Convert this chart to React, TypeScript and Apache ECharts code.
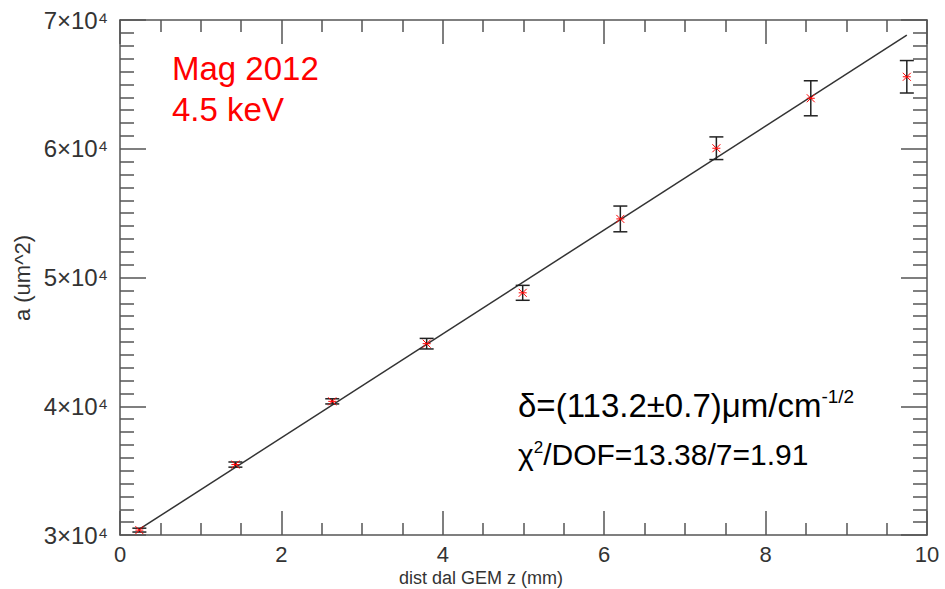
import React, { useEffect, useRef } from "react";
import * as echarts from "echarts";

const zValues = [0.24, 1.43, 2.63, 3.8, 4.99, 6.2, 7.39, 8.56, 9.75];
const aValues = [30380, 35470, 40380, 44860, 48810, 54550, 60040, 63920, 65590];
const aErrors = [150, 200, 200, 410, 580, 1000, 880, 1360, 1260];
const fitZ = [0.24, 9.75];
const fitA = [30450, 68830];
const xTickLabels = ["0", "2", "4", "6", "8", "10"];
const yTickLabels = ["3×10⁴", "4×10⁴", "5×10⁴", "6×10⁴", "7×10⁴"];

const AXIS_COLOR = "#555";
const FONT = "Liberation Sans, Arial, Helvetica, sans-serif";

export default function App() {
  const ref = useRef<HTMLDivElement>(null);
  useEffect(() => {
    if (!ref.current) return;
    const chart = echarts.init(ref.current, undefined, { renderer: "svg" });
    const data = zValues.map((z, i) => [z, aValues[i], aErrors[i]]);
    const xBase = (show: boolean, pos: "bottom" | "top") => ({
      type: "value" as const,
      position: pos,
      min: 0,
      max: 10,
      interval: 2,
      axisLine: { show: true, onZero: false, lineStyle: { color: AXIS_COLOR, width: 1.5 } },
      axisTick: { show: true, inside: true, length: 24, lineStyle: { color: AXIS_COLOR, width: 1.5 } },
      minorTick: { show: true, splitNumber: 4, length: 12, lineStyle: { color: AXIS_COLOR, width: 1.5 } },
      splitLine: { show: false },
      axisLabel: {
        show,
        margin: 8,
        fontSize: 22,
        color: "#333",
        fontFamily: FONT,
        formatter: (v: number) => xTickLabels[Math.round(v / 2)] ?? String(v),
      },
    });
    const yBase = (show: boolean, pos: "left" | "right") => ({
      type: "value" as const,
      position: pos,
      min: 30000,
      max: 70000,
      interval: 10000,
      axisLine: { show: true, onZero: false, lineStyle: { color: AXIS_COLOR, width: 1.5 } },
      axisTick: { show: true, inside: true, length: 26, lineStyle: { color: AXIS_COLOR, width: 1.5 } },
      minorTick: { show: true, splitNumber: 10, length: 14, lineStyle: { color: AXIS_COLOR, width: 1.5 } },
      splitLine: { show: false },
      axisLabel: {
        show,
        margin: 12,
        fontSize: 24,
        color: "#333",
        fontFamily: FONT,
        formatter: (v: number) => yTickLabels[Math.round((v - 30000) / 10000)] ?? String(v),
      },
    });

    chart.setOption({
      animation: false,
      backgroundColor: "#fff",
      grid: { left: 120, right: 18, top: 20, bottom: 54, containLabel: false },
      xAxis: [xBase(true, "bottom"), xBase(false, "top")],
      yAxis: [yBase(true, "left"), yBase(false, "right")],
      series: [
        {
          type: "line",
          xAxisIndex: 0,
          yAxisIndex: 0,
          data: fitZ.map((z, i) => [z, fitA[i]]),
          showSymbol: false,
          lineStyle: { color: "#333", width: 1.5 },
          z: 2,
        },
        {
          type: "custom",
          xAxisIndex: 0,
          yAxisIndex: 0,
          data,
          z: 3,
          renderItem: (params: any, api: any) => {
            const x = api.value(0);
            const y = api.value(1);
            const e = api.value(2);
            const p = api.coord([x, y]);
            const top = api.coord([x, y + e]);
            const bot = api.coord([x, y - e]);
            const cap = 7;
            const s = 4;
            const black = { stroke: "#222", lineWidth: 1.5 };
            const red = { stroke: "#ff0000", lineWidth: 1 };
            return {
              type: "group",
              children: [
                { type: "line", shape: { x1: p[0], y1: top[1], x2: p[0], y2: bot[1] }, style: black },
                { type: "line", shape: { x1: p[0] - cap, y1: top[1], x2: p[0] + cap, y2: top[1] }, style: black },
                { type: "line", shape: { x1: p[0] - cap, y1: bot[1], x2: p[0] + cap, y2: bot[1] }, style: black },
                { type: "line", shape: { x1: p[0] - s, y1: p[1] - s, x2: p[0] + s, y2: p[1] + s }, style: red },
                { type: "line", shape: { x1: p[0] - s, y1: p[1] + s, x2: p[0] + s, y2: p[1] - s }, style: red },
                { type: "line", shape: { x1: p[0] - s, y1: p[1], x2: p[0] + s, y2: p[1] }, style: red },
              ],
            };
          },
        },
      ],
      graphic: [
        {
          type: "text",
          left: 172,
          top: 52,
          style: { text: "Mag 2012", fill: "#ff0000", fontSize: 33, fontFamily: FONT },
        },
        {
          type: "text",
          left: 172,
          top: 93,
          style: { text: "4.5 keV", fill: "#ff0000", fontSize: 33, fontFamily: FONT },
        },
        {
          type: "text",
          left: 518,
          top: 387,
          style: {
            text: "{m|δ=(113.2±0.7)μm/cm}{s|-1/2}",
            rich: {
              m: { fontSize: 33, fill: "#000", fontFamily: FONT },
              s: { fontSize: 19, fill: "#000", fontFamily: FONT, padding: [0, 0, 17, 0] },
            },
          },
        },
        {
          type: "text",
          left: 518,
          top: 439,
          style: {
            text: "{m|χ}{s|2}{m|/DOF=13.38/7=1.91}",
            rich: {
              m: { fontSize: 30, fill: "#000", fontFamily: FONT },
              s: { fontSize: 17, fill: "#000", fontFamily: FONT, padding: [0, 0, 14, 0] },
            },
          },
        },
        {
          type: "text",
          x: 481,
          y: 578,
          style: {
            text: "dist dal GEM z (mm)",
            fill: "#333",
            fontSize: 18,
            fontFamily: FONT,
            align: "center",
            verticalAlign: "middle",
          },
        },
        {
          type: "text",
          x: 22,
          y: 278,
          rotation: Math.PI / 2,
          style: {
            text: "a (um^2)",
            fill: "#333",
            fontSize: 22,
            fontFamily: FONT,
            align: "center",
            verticalAlign: "middle",
          },
        },
      ],
    });
    return () => chart.dispose();
  }, []);
  return <div ref={ref} style={{ width: 945, height: 589, position: "absolute", left: 0, top: 0 }} />;
}
